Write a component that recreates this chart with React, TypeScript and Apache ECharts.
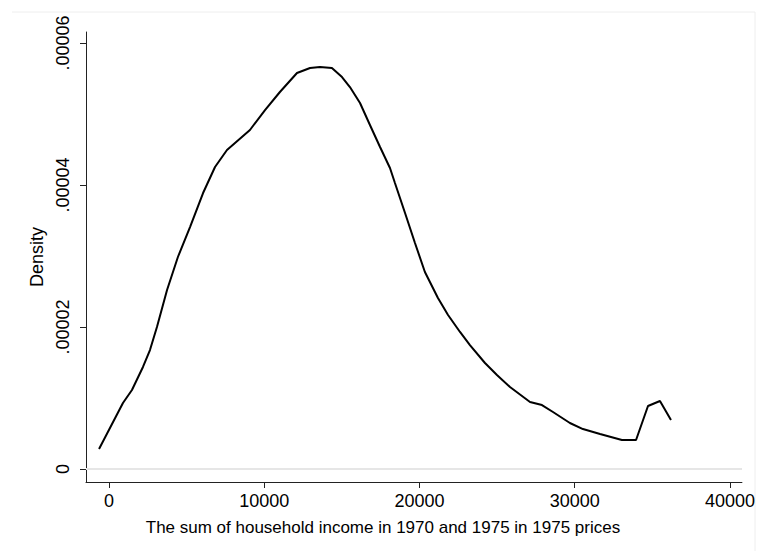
import React, { useEffect, useRef } from "react";
import * as echarts from "echarts";

const incomeX = [
  -640, 900, 1480, 2190, 2640, 3090, 3740, 4440, 5220, 6060, 6830, 7600, 9080,
  10050, 11010, 12110, 12950, 13590, 14360, 15010, 15520, 16170, 16810, 17460,
  18100, 18420, 19070, 19710, 20350, 21190, 21840, 22610, 23250, 24220, 24990,
  25830, 27120, 27890, 28600, 29690, 30530, 31630, 33040, 33950, 34720, 35490,
  36200,
];
const density = [
  2.82e-6, 9.3e-6, 1.113e-5, 1.437e-5, 1.676e-5, 2.0e-5, 2.521e-5, 2.986e-5,
  3.408e-5, 3.887e-5, 4.254e-5, 4.493e-5, 4.775e-5, 5.056e-5, 5.31e-5, 5.577e-5,
  5.648e-5, 5.662e-5, 5.648e-5, 5.521e-5, 5.38e-5, 5.155e-5, 4.845e-5, 4.535e-5,
  4.239e-5, 4.028e-5, 3.606e-5, 3.183e-5, 2.775e-5, 2.408e-5, 2.169e-5, 1.93e-5,
  1.746e-5, 1.493e-5, 1.324e-5, 1.155e-5, 9.44e-6, 9.01e-6, 8.03e-6, 6.48e-6,
  5.63e-6, 4.93e-6, 4.08e-6, 4.08e-6, 8.87e-6, 9.58e-6, 6.9e-6,
];
const xTicks = [0, 10000, 20000, 30000, 40000];
const yTicks = [0, 0.00002, 0.00004, 0.00006];
const yTickLabels = ["0", ".00002", ".00004", ".00006"];
const xTitle = "The sum of household income in 1970 and 1975 in 1975 prices";
const yTitle = "Density";

export default function App() {
  const ref = useRef<HTMLDivElement>(null);
  useEffect(() => {
    if (!ref.current) return;
    const chart = echarts.init(ref.current, null, { renderer: "svg" });
    const font = "Liberation Sans, Arial, sans-serif";
    chart.setOption({
      animation: false,
      backgroundColor: "#ffffff",
      grid: { left: 86, right: 16, top: 32, bottom: 69, containLabel: false },
      graphic: [
        {
          type: "polyline",
          silent: true,
          shape: { points: [[12, 12], [755, 12], [755, 551]] },
          style: { stroke: "#eeeeee", lineWidth: 1, fill: "none" },
        },
      ],
      xAxis: {
        type: "value",
        min: -1480,
        max: 40770,
        name: xTitle,
        nameLocation: "middle",
        nameGap: 37,
        nameTextStyle: {
          color: "#000",
          fontSize: 17,
          fontFamily: font,
          padding: [0, 62, 0, 0],
        },
        axisLine: { show: true, onZero: false, lineStyle: { color: "#222", width: 1 } },
        axisTick: {
          show: true,
          length: 6,
          customValues: xTicks,
          lineStyle: { color: "#222", width: 1 },
        },
        axisLabel: {
          customValues: xTicks,
          color: "#000",
          fontSize: 18,
          fontFamily: font,
          margin: 10,
          formatter: (v: number) => String(Math.round(v)),
        },
        splitLine: { show: false },
      },
      yAxis: {
        type: "value",
        min: -1.83e-6,
        max: 6.155e-5,
        name: yTitle,
        nameLocation: "middle",
        nameGap: 31,
        nameRotate: 90,
        nameTextStyle: { color: "#000", fontSize: 18, fontFamily: font },
        axisLine: { show: true, onZero: false, lineStyle: { color: "#222", width: 1 } },
        axisTick: {
          show: true,
          length: 6,
          customValues: yTicks,
          lineStyle: { color: "#222", width: 1 },
        },
        axisLabel: {
          customValues: yTicks,
          rotate: 90,
          color: "#000",
          fontSize: 18,
          fontFamily: font,
          margin: 14,
          formatter: (v: number) => {
            let best = 0;
            yTicks.forEach((t, i) => {
              if (Math.abs(t - v) < Math.abs(yTicks[best] - v)) best = i;
            });
            return yTickLabels[best];
          },
        },
        splitLine: { show: false },
      },
      series: [
        {
          type: "line",
          data: incomeX.map((x, i) => [x, density[i]]),
          showSymbol: false,
          symbol: "none",
          lineStyle: { color: "#000", width: 2 },
          z: 3,
          markLine: {
            silent: true,
            symbol: "none",
            label: { show: false },
            lineStyle: { color: "#e6e6e6", width: 1.5, type: "solid" },
            data: yTicks.map((t) => ({ yAxis: t })),
            z: 1,
          },
        },
      ],
    });
    return () => chart.dispose();
  }, []);
  return (
    <div
      ref={ref}
      style={{ position: "fixed", left: 0, top: 0, width: 758, height: 551 }}
    />
  );
}
